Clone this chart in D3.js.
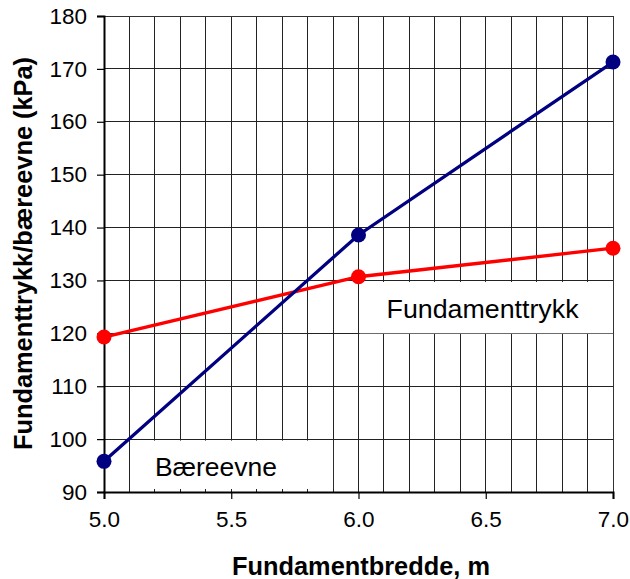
<!DOCTYPE html>
<html><head><meta charset="utf-8">
<script src="https://cdn.jsdelivr.net/npm/d3@7"></script>
<style>body{margin:0;background:#fff}svg{display:block;font-family:"Liberation Sans",Arial,sans-serif}</style>
</head><body>
<svg id="c" width="630" height="579"></svg>
<script>
const widths = [5.0, 6.0, 7.0];
const baereevne = [95.8, 138.6, 171.3];
const fundamenttrykk = [119.3, 130.7, 136.1];
const xTicks = [5.0, 5.5, 6.0, 6.5, 7.0];
const yTicks = [90, 100, 110, 120, 130, 140, 150, 160, 170, 180];
const xTitle = "Fundamentbredde, m";
const yTitle = "Fundamenttrykk/bæreevne (kPa)";
const labels = [
  {text: "Bæreevne", x0: 5.1, x1: 5.9, y0: 90, y1: 100, tx: 5.2, ty: 95},
  {text: "Fundamenttrykk", x0: 6.0, x1: 7.0, y0: 120, y1: 130, tx: 6.1, ty: 125}
];

const svg = d3.select("#c");
const L = 104, R = 613, T = 16, B = 492;
const x = d3.scaleLinear().domain([5, 7]).range([L, R]);
const y = d3.scaleLinear().domain([90, 180]).range([B, T]);

// grid
const g = svg.append("g").attr("shape-rendering", "crispEdges");
d3.range(5.1, 6.95, 0.1).forEach(v => {
  g.append("line").attr("x1", x(v)).attr("x2", x(v)).attr("y1", T).attr("y2", B)
    .attr("stroke", "#222").attr("stroke-width", 1);
});
yTicks.slice(1).forEach(v => {
  g.append("line").attr("x1", L).attr("x2", R).attr("y1", y(v)).attr("y2", y(v))
    .attr("stroke", "#222").attr("stroke-width", 1);
});

// label backgrounds
labels.forEach(l => {
  svg.append("rect").attr("x", x(l.x0) + 1).attr("width", x(l.x1) - x(l.x0) - 1)
    .attr("y", y(l.y1) + 1.5).attr("height", y(l.y0) - y(l.y1) - 1.5)
    .attr("fill", "#fff");
});

// minor inside ticks on x axis
const g2 = svg.append("g").attr("shape-rendering", "crispEdges");
d3.range(5.1, 6.95, 0.1).forEach(v => {
  g2.append("line").attr("x1", x(v)).attr("x2", x(v)).attr("y1", B - 3).attr("y2", B)
    .attr("stroke", "#222");
});

// border
svg.append("rect").attr("x", L).attr("y", T).attr("width", R - L).attr("height", B - T)
  .attr("fill", "none").attr("stroke", "#333").attr("stroke-width", 1).attr("shape-rendering", "crispEdges");

// axes
const xa = svg.append("g").attr("transform", `translate(0,${B})`)
  .call(d3.axisBottom(x).tickValues(xTicks).tickFormat(d3.format(".1f")).tickSize(7).tickPadding(12));
const ya = svg.append("g").attr("transform", `translate(${L},0)`)
  .call(d3.axisLeft(y).tickValues(yTicks).tickSize(7).tickPadding(10));
[xa, ya].forEach(a => {
  a.select(".domain").attr("stroke", "#000").attr("stroke-width", 2);
  a.selectAll(".tick line").attr("stroke", "#000").attr("stroke-width", 1.2);
  a.selectAll("text").attr("font-size", 22.5).attr("fill", "#000")
    .attr("font-family", '"Liberation Sans",Arial,sans-serif');
});

// label texts
const labLen = [122, 192];
labels.forEach((l, i) => {
  svg.append("text").attr("x", x(l.tx) + (i === 0 ? 0 : 2.6))
    .attr("y", y(l.ty) + (i === 0 ? 10.5 : 11))
    .attr("font-size", 26.5).attr("textLength", labLen[i]).attr("lengthAdjust", "spacingAndGlyphs")
    .text(l.text);
});

// lines
const line = d3.line().x((d, i) => x(widths[i])).y(d => y(d));
[[fundamenttrykk, "#ff0000"], [baereevne, "#000080"]].forEach(([s, c]) => {
  svg.append("path").datum(s).attr("d", line).attr("fill", "none")
    .attr("stroke", c).attr("stroke-width", 3.3);
  svg.selectAll(null).data(s).enter().append("circle")
    .attr("cx", (d, i) => x(widths[i])).attr("cy", d => y(d)).attr("r", 7.5).attr("fill", c);
});

// titles
svg.append("text").attr("x", 361).attr("y", 575).attr("text-anchor", "middle")
  .attr("font-size", 25).attr("font-weight", "bold")
  .attr("textLength", 258).attr("lengthAdjust", "spacingAndGlyphs").text(xTitle);
svg.append("text").attr("transform", `translate(32,253.5) rotate(-90)`)
  .attr("text-anchor", "middle").attr("font-size", 25).attr("font-weight", "bold")
  .attr("textLength", 393).attr("lengthAdjust", "spacingAndGlyphs").text(yTitle);
</script>
</body></html>
